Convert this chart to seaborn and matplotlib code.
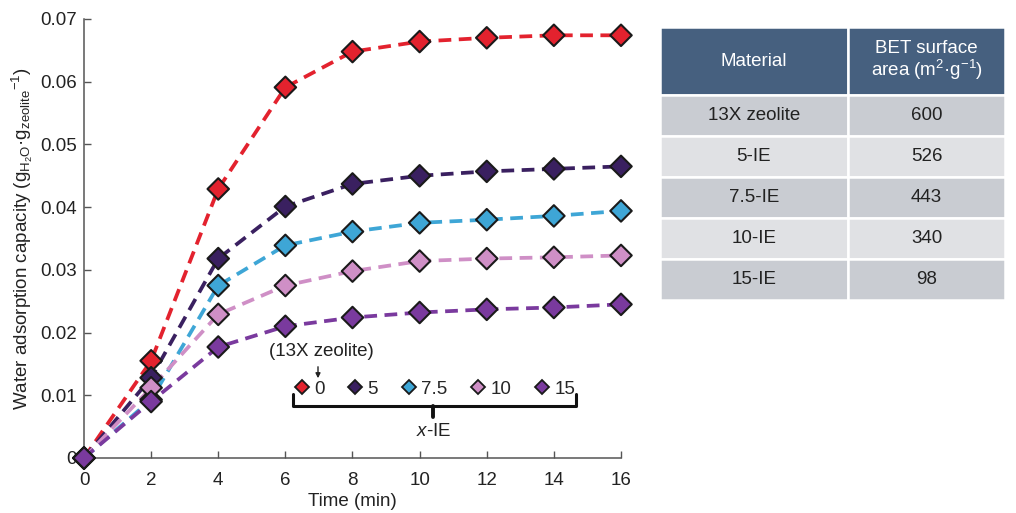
import numpy as np
import pandas as pd
import matplotlib
matplotlib.use("Agg")
import matplotlib.pyplot as plt
from matplotlib.lines import Line2D
import seaborn as sns

sns.set_style("ticks")
plt.rcParams['font.family'] = ['Liberation Sans', 'DejaVu Sans']
plt.rcParams['mathtext.fontset'] = 'custom'
plt.rcParams['mathtext.rm'] = 'Liberation Sans'
plt.rcParams['mathtext.it'] = 'Liberation Sans:italic'

# ---- data ----
time = [0, 2, 4, 6, 8, 10, 12, 14, 16]
series_labels = ["0", "5", "7.5", "10", "15"]
cap_0 = [0, 0.0155, 0.0429, 0.0591, 0.0648, 0.0664, 0.0670, 0.0674, 0.0674]
cap_5 = [0, 0.0128, 0.0318, 0.0401, 0.0437, 0.0450, 0.0457, 0.0461, 0.0465]
cap_7_5 = [0, 0.0093, 0.0275, 0.0339, 0.0361, 0.0375, 0.0380, 0.0386, 0.0394]
cap_10 = [0, 0.0112, 0.0229, 0.0275, 0.0298, 0.0314, 0.0318, 0.0320, 0.0323]
cap_15 = [0, 0.0090, 0.0177, 0.0210, 0.0224, 0.0232, 0.0237, 0.0240, 0.0245]
colors = ["#e3222e", "#3a2060", "#3ea6d6", "#cf8fc6", "#7a3a9e"]

materials = ["13X zeolite", "5-IE", "7.5-IE", "10-IE", "15-IE"]
bet_area = [600, 526, 443, 340, 98]

frames = []
for lab, vals in zip(series_labels, [cap_0, cap_5, cap_7_5, cap_10, cap_15]):
    frames.append(pd.DataFrame({"time": time, "cap": vals, "x": lab}))
df = pd.concat(frames, ignore_index=True)
palette = dict(zip(series_labels, colors))

FS = 13.5
fig = plt.figure(figsize=(10.16, 5.13), dpi=100)
ax = fig.add_axes([84/1016, 55/513, (621-84)/1016, (458-19)/513])

sns.lineplot(data=df, x="time", y="cap", hue="x", palette=palette, ax=ax,
             linewidth=2.7, legend=False, zorder=2)
for l in ax.get_lines():
    l.set_dashes((3.4, 2.0))
sns.scatterplot(data=df, x="time", y="cap", hue="x", palette=palette, ax=ax,
                marker="D", s=120, edgecolor="#1a1a1a", linewidth=1.5,
                legend=False, zorder=3, clip_on=False)

ax.set_xlim(0, 16)
ax.set_ylim(0, 0.07)
ax.set_xticks(range(0, 17, 2))
ax.set_yticks(np.arange(0, 0.0701, 0.01))
ax.set_yticklabels(["0"] + [f"{v:.2f}" for v in np.arange(0.01, 0.0701, 0.01)])
ax.tick_params(direction="in", length=5, width=1, color="#555555",
               labelsize=FS, colors="#222222")
ax.tick_params(axis="x", pad=10)
ax.tick_params(axis="y", pad=5)
for s in ["top", "right"]:
    ax.spines[s].set_visible(False)
for s in ["left", "bottom"]:
    ax.spines[s].set_color("#555555")
    ax.spines[s].set_linewidth(1.1)
ax.set_xlabel("Time (min)", fontsize=FS, color="#222222", labelpad=3)
ax.set_ylabel(r"Water adsorption capacity (g$_{\mathrm{H_2O}}$·g$_{\mathrm{zeolite}}$$^{-1}$)",
              fontsize=FS, color="#222222", labelpad=4)

# legend
handles = [Line2D([], [], marker="D", linestyle="none", markerfacecolor=c,
                  markeredgecolor="#1a1a1a", markersize=7.5, markeredgewidth=1.3,
                  label=lab) for lab, c in zip(series_labels, colors)]
leg = ax.legend(handles=handles, ncol=5, frameon=False, loc="center",
                bbox_to_anchor=((434-84)/537, (458-389)/439),
                handletextpad=0.15, columnspacing=1.15, fontsize=FS,
                handlelength=1.0, borderpad=0)
# bracket
tr = ax.transAxes
def ax_xy(px, py):
    return ((px-84)/537, (458-py)/439)
pts = [ax_xy(293, 394), ax_xy(293, 406), ax_xy(576, 406), ax_xy(576, 394)]
ax.add_line(Line2D([p[0] for p in pts], [p[1] for p in pts], transform=tr,
                   color="#111111", linewidth=2.2, clip_on=False,
                   solid_joinstyle="round"))
c1, c2 = ax_xy(433, 406), ax_xy(433, 417)
ax.add_line(Line2D([c1[0], c2[0]], [c1[1], c2[1]], transform=tr,
                   color="#111111", linewidth=2.8, clip_on=False))
ax.text(*ax_xy(434, 432), r"$\mathit{x}$-IE", transform=tr, ha="center",
        va="center", fontsize=FS, color="#222222")
ax.annotate("", xy=ax_xy(318, 381), xytext=ax_xy(318, 364),
            xycoords=tr, textcoords=tr,
            arrowprops=dict(arrowstyle="-|>", color="#222222", lw=1,
                            mutation_scale=7))
ax.text(*ax_xy(321, 352), "(13X zeolite)", transform=tr, ha="center",
        va="center", fontsize=FS, color="#222222")

# table
tax = fig.add_axes([660/1016, (513-300)/513, (1005-660)/1016, (300-27)/513])
tax.axis("off")
header = ["Material", "BET surface\n" + r"area (m$^{2}$·g$^{-1}$)"]
cell_text = [[m, str(v)] for m, v in zip(materials, bet_area)]
row_cols = ["#c9ccd2", "#e0e1e4"]
cell_colours = [[row_cols[i % 2]] * 2 for i in range(len(materials))]
tab = tax.table(cellText=cell_text, colLabels=header, cellColours=cell_colours,
                colColours=["#46607f", "#46607f"], cellLoc="center",
                colWidths=[188/345, 157/345], bbox=[0, 0, 1, 1])
tab.auto_set_font_size(False)
for (r, c), cell in tab.get_celld().items():
    cell.set_edgecolor("white")
    cell.set_linewidth(1.8)
    cell.set_height(68 if r == 0 else 41)
    cell.get_text().set_fontsize(FS)
    if r == 0:
        cell.get_text().set_color("white")
        cell.get_text().set_linespacing(1.05)
    else:
        cell.get_text().set_color("#222222")

fig.savefig("out.png", dpi=100)
